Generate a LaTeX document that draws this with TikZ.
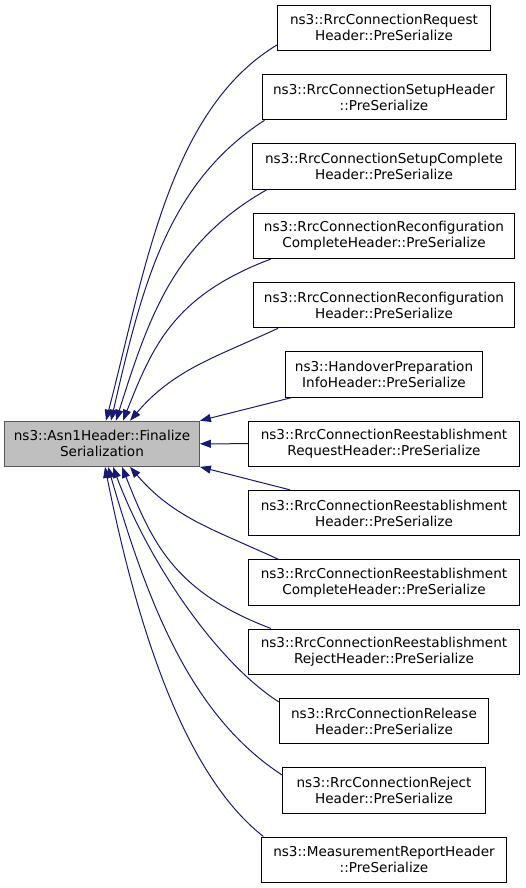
\documentclass[tikz,border=0pt]{standalone}
\usepackage{fontspec}
\setmainfont{DejaVu Sans}
\usetikzlibrary{positioning}
\usetikzlibrary{arrows.meta}
\usetikzlibrary{calc}
\definecolor{midnight}{RGB}{25,25,112}

\begin{document}
\begin{tikzpicture}[x=1pt,y=1pt,
    every node/.style={font=\fontsize{13.6}{15.8}\selectfont, align=center, inner sep=1pt},
    caller/.style={draw=black, line width=0.9pt, minimum height=45.5pt},
    target/.style={draw=black!65, fill=black!25, line width=1.2pt, minimum width=194.6pt, minimum height=45pt},
    link/.style={draw=midnight, line width=1pt, -{Triangle[length=11pt,width=8pt]}}]
        \useasboundingbox (0,0) rectangle (525,888);

        % The function that is called
        \node[target] (main) at (102,444.2) {ns3::Asn1Header::Finalize\\Serialization};

        % The callers, top to bottom
        \foreach \i/\w/\txt in {
            1/213/ns3::RrcConnectionRequest\\Header::PreSerialize,
            2/244/ns3::RrcConnectionSetupHeader\\::PreSerialize,
            3/263/ns3::RrcConnectionSetupComplete\\Header::PreSerialize,
            4/261/ns3::RrcConnectionReconfiguration\\CompleteHeader::PreSerialize,
            5/261/ns3::RrcConnectionReconfiguration\\Header::PreSerialize,
            6/197.7/ns3::HandoverPreparation\\InfoHeader::PreSerialize,
            7/271/ns3::RrcConnectionReestablishment\\RequestHeader::PreSerialize,
            8/271/ns3::RrcConnectionReestablishment\\Header::PreSerialize,
            9/271/ns3::RrcConnectionReestablishment\\CompleteHeader::PreSerialize,
            10/271/ns3::RrcConnectionReestablishment\\RejectHeader::PreSerialize,
            11/209.7/ns3::RrcConnectionRelease\\Header::PreSerialize,
            12/202.3/ns3::RrcConnectionReject\\Header::PreSerialize,
            13/244.3/ns3::MeasurementReportHeader\\::PreSerialize}
        \node[caller, minimum width=\w pt] (r\i) at (384, {860.25-69.33*(\i-1)}) {\txt};

        % Draw the calls
        \draw[link] ([yshift=6pt]r1.south west) to[out=211,in=75.5,out distance=125pt,in distance=157pt] ([xshift=4pt]main.north);
        \draw[link] ([xshift=3pt]r2.south west) to[out=213,in=77,out distance=116pt,in distance=139pt] ([xshift=9pt]main.north);
        \draw[link] ([xshift=15pt]r3.south west) to[out=209.5,in=72.5,out distance=106pt,in distance=112pt] ([xshift=14pt]main.north);
        \draw[link] ([xshift=18pt]r4.south west) to[out=200.7,in=68.3,out distance=104pt,in distance=81pt] ([xshift=21pt]main.north);
        \draw[link] ([xshift=25pt]r5.south west) to[out=205,in=49.5,out distance=68pt,in distance=68pt] ([xshift=28pt]main.north);
        \draw[link] ([xshift=7pt]r6.south west) -- (main.north east);
        \draw[link] (r7.west) -- (main.east);
        \draw[link] ([xshift=42pt]r8.north west) -- (main.south east);
        \draw[link] ([xshift=30pt]r9.north west) to[out=155,in=310.5,out distance=68pt,in distance=68pt] ([xshift=28pt]main.south);
        \draw[link] ([xshift=23pt]r10.north west) to[out=159.3,in=291.7,out distance=104pt,in distance=81pt] ([xshift=20pt]main.south);
        \draw[link] ([yshift=-4pt]r11.north west) to[out=147.4,in=290.5,out distance=73pt,in distance=103pt] ([xshift=11pt]main.south);
        \draw[link] ([yshift=-8pt]r12.north west) to[out=147.1,in=286.3,out distance=110pt,in distance=140pt] ([xshift=6pt]main.south);
        \draw[link] ([xshift=2pt]r13.north west) to[out=142,in=281.3,out distance=103pt,in distance=156pt] ([xshift=3pt]main.south);
\end{tikzpicture}
\end{document}
